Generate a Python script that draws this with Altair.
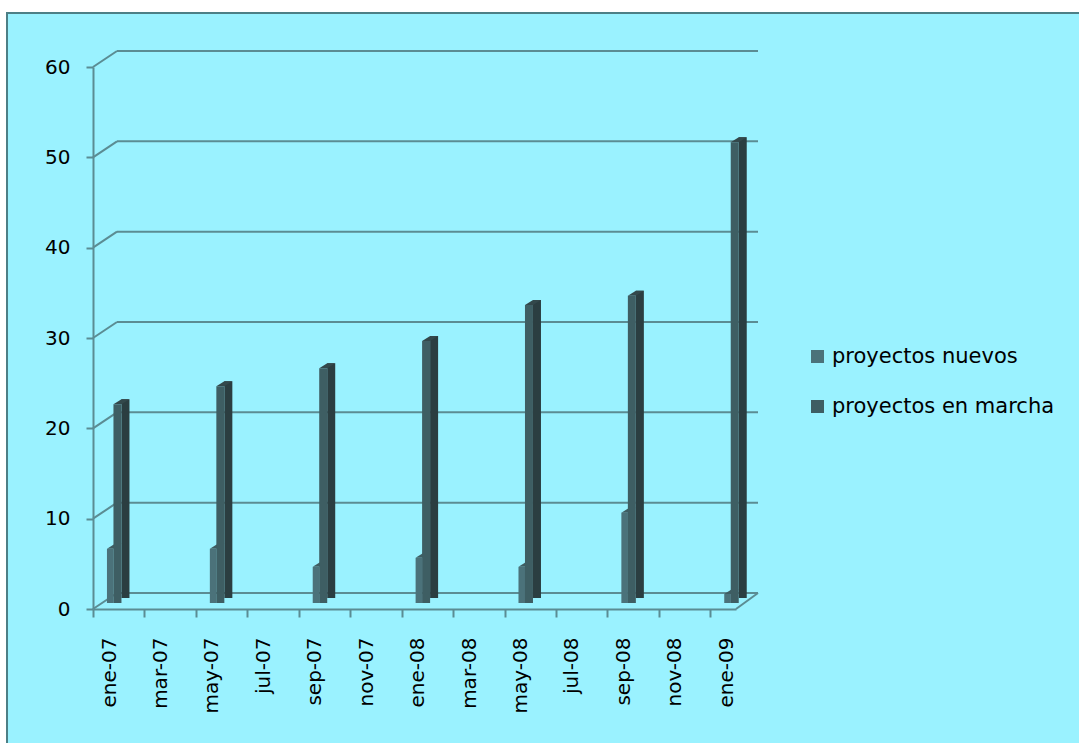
import altair as alt
import pandas as pd

# Monthly sampling of the two project counts
fechas = ["ene-07", "may-07", "sep-07", "ene-08", "may-08", "sep-08", "ene-09"]
nuevos = [6, 6, 4, 5, 4, 10, 1]
en_marcha = [22, 24, 26, 29, 33, 34, 51]

series = ["proyectos nuevos", "proyectos en marcha"]
tick_labels = ["ene-07", "mar-07", "may-07", "jul-07", "sep-07", "nov-07",
               "ene-08", "mar-08", "may-08", "jul-08", "sep-08", "nov-08", "ene-09"]
y_ticks = [0, 10, 20, 30, 40, 50, 60]

MESES = ["ene", "feb", "mar", "abr", "may", "jun", "jul", "ago", "sep", "oct", "nov", "dic"]


def month_index(label):
    mes, anio = label.split("-")
    return (int(anio) - 7) * 12 + MESES.index(mes)


rows = []
for f, n, m in zip(fechas, nuevos, en_marcha):
    pos = month_index(f) + 0.5  # centre of the month on the axis
    rows.append({"fecha": f, "serie": series[0], "valor": n, "pos": pos})
    rows.append({"fecha": f, "serie": series[1], "valor": m, "pos": pos})
df = pd.DataFrame(rows)
grid_df = pd.DataFrame({"v": y_ticks})

N_MONTHS = 25
BG = "#9af2ff"
LINE = "#5b8c93"
C_NUEVOS = "#4b727a"
C_MARCHA = "#3e5e63"
C_SIDE = "#2b3e41"
C_TOP = "#33484b"

x_scale = alt.Scale(domain=[0, N_MONTHS], nice=False, zero=False, padding=0)
y_scale = alt.Scale(domain=[0, 60], nice=False, padding=0)
color_scale = alt.Scale(domain=series, range=[C_NUEVOS, C_MARCHA])

label_js = "[" + ",".join("'%s'" % t for t in tick_labels) + "][datum.value / 2]"

x_axis = alt.Axis(
    values=list(range(0, N_MONTHS, 2)), labelExpr=label_js, title=None,
    labelAngle=270, labelFontSize=20, labelFont="DejaVu Sans", labelColor="#000000",
    labelOffset=16, labelPadding=20, tickSize=8, tickWidth=2, tickColor=LINE,
    domainColor=LINE, domainWidth=2, grid=False, labelFlush=False, labelOverlap=False,
)
y_axis = alt.Axis(
    values=y_ticks, title=None, labelFontSize=20, labelFont="DejaVu Sans",
    labelColor="#000000", labelPadding=16, tickSize=7, tickWidth=2, tickColor=LINE,
    domainColor=LINE, domainWidth=2, grid=False,
)
legend = alt.Legend(
    title=None, orient="none", legendX=714, legendY=279, symbolType="square",
    symbolSize=169, symbolStrokeWidth=0, labelFontSize=21, labelFont="DejaVu Sans",
    labelColor="#000000", labelOffset=4, rowPadding=28, labelLimit=400,
)

one = alt.Data(values=[{}])

# Outer frame of the chart area
strip_top = alt.Chart(one).mark_rect(color="white").encode(
    x=alt.value(-93), x2=alt.value(2000), y=alt.value(-67), y2=alt.value(-54))
strip_left = alt.Chart(one).mark_rect(color="white").encode(
    x=alt.value(-93), x2=alt.value(-86), y=alt.value(-67), y2=alt.value(2000))
frame = alt.Chart(one).mark_rect(fillOpacity=0, stroke="#4d7f86", strokeWidth=2).encode(
    x=alt.value(-86), x2=alt.value(2000), y=alt.value(-54), y2=alt.value(2000))

# Back wall gridlines and their links to the front axis
back_grid = alt.Chart(grid_df).mark_rule(
    color=LINE, strokeWidth=2, xOffset=24, x2Offset=22, yOffset=-16
).encode(
    y=alt.Y("v:Q", scale=y_scale, axis=y_axis),
    x=alt.datum(0, scale=x_scale, axis=x_axis),
    x2=alt.datum(N_MONTHS),
)
left_links = alt.Chart(grid_df).mark_rule(
    color=LINE, strokeWidth=2, x2Offset=24, y2Offset=-16
).encode(
    y=alt.Y("v:Q", scale=y_scale),
    y2="v:Q",
    x=alt.datum(0, scale=x_scale),
    x2=alt.datum(0),
)
floor_right = alt.Chart(one).mark_rule(
    color=LINE, strokeWidth=2, x2Offset=22, y2Offset=-16
).encode(
    x=alt.datum(N_MONTHS, scale=x_scale), x2=alt.datum(N_MONTHS),
    y=alt.datum(0, scale=y_scale), y2=alt.datum(0),
)

base = alt.Chart(df)
nuevos_df = base.transform_filter(alt.datum.serie == series[0])
marcha_df = base.transform_filter(alt.datum.serie == series[1])

X = alt.X("pos:Q", scale=x_scale)
Y = alt.Y("valor:Q", scale=y_scale)

top_nuevos_path = "M -1 0.3125 L -0.175 0.3125 L 0.825 -0.3125 L 0 -0.3125 Z"
top_path = "M -1 0.3125 L 0 0.3125 L 1 -0.3125 L 0 -0.3125 Z"

nuevos_top = nuevos_df.mark_point(
    shape=top_nuevos_path, size=256, filled=True, opacity=1, strokeWidth=0,
    color="#3f5d62", xOffset=9.1, yOffset=-8.5,
).encode(x=X, y=Y)
nuevos_front = nuevos_df.mark_bar(
    orient="vertical", size=6.6, xOffset=4.4, yOffset=-6, y2Offset=-6,
).encode(x=X, y=Y, color=alt.Color("serie:N", scale=color_scale, legend=legend))

marcha_side = marcha_df.mark_bar(
    orient="vertical", size=8, xOffset=19.6, yOffset=-11, y2Offset=-8.5, color=C_SIDE,
).encode(x=X, y=Y)
marcha_top = marcha_df.mark_point(
    shape=top_path, size=256, filled=True, opacity=1, strokeWidth=0,
    color=C_TOP, xOffset=15.6, yOffset=-8.5,
).encode(x=X, y=Y)
marcha_front = marcha_df.mark_bar(
    orient="vertical", size=8, xOffset=11.6, yOffset=-6, y2Offset=-6,
).encode(x=X, y=Y, color=alt.Color("serie:N", scale=color_scale, legend=legend))

chart = alt.layer(
    strip_top, strip_left, frame,
    back_grid, left_links, floor_right,
    nuevos_top, nuevos_front, marcha_side, marcha_top, marcha_front,
).properties(
    width=643, height=542,
    autosize=alt.AutoSizeParams(type="none"),
    padding={"left": 93, "top": 67, "right": 343, "bottom": 134},
    background=BG,
).configure_view(stroke=None).configure_axis(zindex=1)

chart.save("out.html", embed_options={"renderer": "svg", "actions": False})
